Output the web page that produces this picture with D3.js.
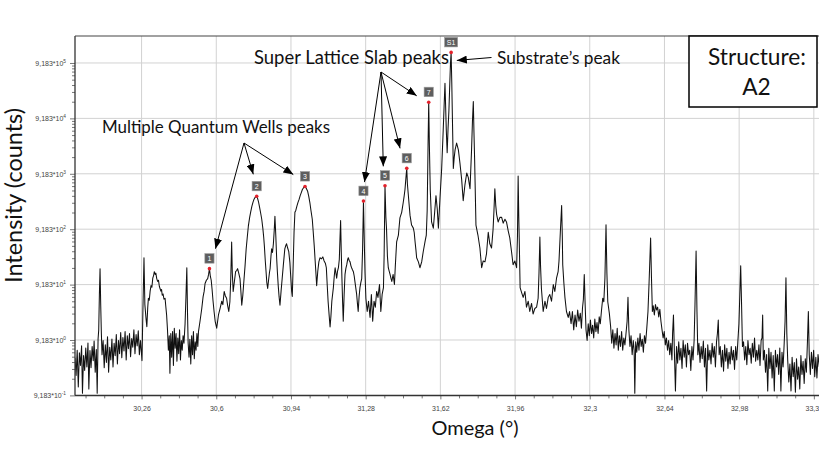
<!DOCTYPE html>
<html><head><meta charset="utf-8">
<script src="https://cdn.jsdelivr.net/npm/d3@7"></script>
<style>body{margin:0;background:#fff} svg{display:block}</style>
</head><body><svg id="c" width="819" height="450"></svg>
<script>
// ---- data: omega (°) vs intensity (counts) ----
const scan = [
[29.957,4.4],[29.962,2.1],[29.967,6.0],[29.972,1.3],[29.977,5.4],[29.982,3.2],[29.987,7.2],[29.991,1.0],[29.996,4.8],[30.001,2.6],[30.006,6.6],[30.011,3.0],[30.016,8.1],[30.020,1.2],[30.025,5.9],[30.030,2.9],[30.035,7.0],[30.040,3.9],[30.044,8.8],[30.049,2.4],[30.054,6.2],[30.058,1.0],[30.062,9.5],[30.065,14],[30.068,60],[30.071,178],[30.074,40],[30.077,12],
[30.080,5.0],[30.085,9.0],[30.090,2.9],[30.095,7.5],[30.100,3.6],[30.105,10.5],[30.110,2.4],[30.115,6.8],[30.120,4.0],[30.125,9.6],[30.130,3.0],[30.135,8.0],[30.140,4.8],[30.145,11.5],[30.150,3.4],[30.155,9.0],[30.160,5.2],[30.165,12.5],[30.170,4.4],[30.175,10.2],[30.180,5.8],[30.185,13.0],[30.190,4.0],[30.195,11.0],[30.200,6.4],[30.205,12.0],[30.210,4.6],[30.215,9.8],[30.220,6.8],[30.225,14.0],[30.230,5.2],[30.235,11.5],[30.240,7.2],[30.245,13.5],[30.250,5.0],[30.255,9.0],[30.262,3.9],
[30.266,30],[30.271,280],[30.275,40],
[30.280,23],[30.284,16],[30.288,35],[30.291,52],[30.295,48],[30.299,70],[30.303,88],[30.307,82],[30.311,120],[30.315,135],[30.318,157],[30.322,140],[30.325,148],[30.329,118],[30.333,105],[30.337,110],[30.341,85],[30.344,78],[30.348,70],[30.351,75],[30.354,59],[30.358,62],[30.362,50],[30.367,52],[30.370,38],[30.374,26],
[30.378,14],[30.382,6.0],[30.386,11],[30.389,2.3],[30.393,12],[30.397,4.5],[30.401,13],[30.405,3.2],[30.409,15],[30.413,6.5],[30.417,12],[30.421,3.8],[30.425,10],[30.429,5.2],[30.433,14],[30.437,4.0],[30.441,9.0],[30.445,6.0],[30.449,11],[30.453,8.0],
[30.458,18],[30.462,55],[30.466,185],[30.469,30],[30.472,8],
[30.476,4.5],[30.480,9.5],[30.484,3.4],[30.488,11],[30.492,5.0],[30.496,13],[30.500,4.2],[30.504,8.5],[30.508,6.0],[30.512,12],[30.516,7.0],
[30.519,13],[30.526,20],[30.534,34],[30.540,55],[30.545,70],[30.549,96],[30.555,110],[30.561,118],[30.565,140],[30.569,178],[30.573,130],[30.577,110],[30.581,75],[30.585,48],[30.590,30],[30.595,20],[30.602,15],
[30.610,26],[30.618,35],[30.625,46],[30.630,40],[30.636,69],[30.641,58],[30.647,52],[30.652,38],[30.657,30],[30.662,45],[30.666,120],[30.670,540],[30.673,150],[30.677,69],[30.682,100],[30.688,157],[30.693,165],[30.697,178],[30.702,150],[30.708,118],[30.712,70],[30.716,39],
[30.721,60],[30.726,110],[30.731,200],[30.736,400],[30.741,650],[30.746,1040],[30.752,1500],[30.757,1900],[30.762,2360],[30.767,2800],[30.772,3200],[30.777,3450],[30.784,3600],[30.788,3300],[30.792,2900],[30.797,2300],[30.802,1800],[30.807,1390],[30.812,950],[30.816,650],[30.819,455],[30.823,250],[30.827,150],[30.830,100],[30.834,78],[30.838,110],[30.842,150],[30.845,178],[30.849,300],[30.852,405],[30.856,350],[30.860,500],[30.864,900],[30.867,1570],[30.871,700],[30.875,268],[30.878,160],[30.882,88],[30.886,55],[30.890,39],[30.895,70],[30.900,118],[30.905,200],[30.909,300],[30.912,405],[30.916,460],[30.920,500],[30.925,420],[30.930,360],[30.935,230],[30.940,110],[30.943,70],[30.946,56],
[30.950,200],[30.954,800],[30.958,1850],[30.962,2000],[30.967,2400],[30.972,2800],[30.977,3166],[30.982,3700],[30.987,4200],[30.992,4780],[30.998,5200],[31.004,5400],[31.010,5000],[31.016,4430],[31.021,3600],[31.026,2780],[31.031,2000],[31.037,1390],[31.041,850],[31.046,455],[31.050,250],[31.054,140],[31.057,88],[31.062,160],[31.067,236],[31.072,280],[31.079,268],[31.085,290],[31.091,245],[31.097,220],[31.101,185],[31.105,90],[31.109,46],[31.114,25],[31.118,15.8],[31.122,25],[31.126,46],[31.133,81],[31.137,130],[31.141,185],[31.148,120],[31.152,160],[31.156,185],[31.160,260],[31.163,600],[31.166,1320],[31.169,350],[31.172,118],[31.175,45],[31.178,20],[31.182,60],[31.186,140],[31.190,180],[31.194,210],[31.198,260],[31.201,280],[31.205,250],[31.209,236],[31.213,200],[31.216,185],[31.220,170],[31.224,157],[31.228,130],[31.231,105],[31.235,80],[31.239,61],[31.243,40],[31.246,30],[31.250,55],[31.254,81],[31.258,100],[31.262,118],[31.266,400],[31.270,2950],[31.274,500],[31.277,150],[31.281,52],
[31.287,30],[31.293,46],[31.300,23.5],[31.306,61],[31.312,20],[31.318,46],[31.324,36],[31.330,69],[31.336,54],[31.343,92],[31.349,30],[31.355,61],[31.361,81],[31.364,300],[31.368,5600],[31.372,1500],[31.375,921],[31.379,300],[31.383,185],[31.387,160],[31.391,140],[31.395,120],[31.399,105],[31.405,140],[31.411,92],[31.415,200],[31.421,540],[31.429,720],[31.436,1470],[31.444,1850],[31.451,2780],[31.455,3600],[31.459,4780],[31.463,7500],[31.467,11500],[31.470,6000],[31.474,3890],[31.478,2500],[31.482,1630],[31.489,1090],[31.497,960],[31.501,800],[31.505,540],[31.509,380],[31.512,280],[31.520,236],[31.527,185],[31.535,236],[31.542,360],[31.550,540],[31.556,720],[31.560,2000],[31.564,30000],[31.567,180000],[31.570,30000],[31.574,4780],[31.580,1240],[31.588,960],[31.594,1850],[31.600,3700],[31.606,2100],[31.611,960],[31.618,3166],[31.626,11500],[31.633,56400],[31.637,150000],[31.641,395000],[31.644,150000],[31.647,56400],[31.651,22000],[31.655,60000],[31.659,128500],[31.663,400000],[31.666,900000],[31.669,1425000],[31.672,400000],[31.675,85000],[31.679,11500],[31.683,18000],[31.687,24800],[31.694,33000],[31.702,24800],[31.709,14500],[31.717,7200],[31.724,3000],[31.732,5870],[31.740,9500],[31.747,7900],[31.755,4950],[31.762,24800],[31.766,80000],[31.770,185000],[31.773,50000],[31.776,16400],[31.782,1090],[31.791,720],[31.800,420],[31.808,185],[31.815,245],[31.823,236],[31.830,330],[31.838,810],[31.845,500],[31.853,420],[31.860,921],[31.864,2000],[31.868,4950],[31.872,2500],[31.876,1700],[31.883,1240],[31.891,1500],[31.899,1500],[31.906,1180],[31.914,1390],[31.921,1240],[31.929,850],[31.936,640],[31.944,360],[31.951,210],[31.959,245],[31.967,185],[31.971,700],[31.974,8400],[31.977,1500],[31.979,611],[31.983,81],[31.991,64],[31.997,54],[32.005,69],[32.012,36],[32.020,46],[32.027,30],[32.035,42],[32.042,27],[32.050,34],[32.058,36],[32.065,52],[32.069,150],[32.073,660],[32.076,200],[32.080,78],[32.088,30],[32.096,46],[32.103,34],[32.111,54],[32.118,61],[32.126,46],[32.134,92],[32.141,69],[32.149,122],[32.156,157],[32.160,245],[32.166,800],[32.172,2460],[32.175,700],[32.177,210],[32.182,100],[32.187,54],[32.194,30],[32.202,23.5],[32.208,30],
[32.215,18],[32.221,30],[32.227,14],[32.233,26],[32.239,16],[32.245,32],[32.251,20],[32.257,28],[32.262,15],[32.267,35],[32.271,50],[32.275,140],[32.279,40],
[32.283,14],[32.288,9],[32.293,18],[32.298,11],[32.303,21],[32.308,12],[32.313,17],[32.318,10],[32.323,22],[32.328,13],[32.333,19],[32.338,12],[32.343,24],[32.348,18],[32.353,30],[32.359,52],[32.364,45],[32.369,120],[32.374,1100],[32.378,150],[32.382,45],[32.389,28],
[32.395,16],[32.400,8],[32.405,14],[32.410,6.5],[32.415,12],[32.420,7.5],[32.425,15],[32.430,6.0],[32.435,11],[32.440,7.0],[32.445,13],[32.450,6.0],[32.455,10],[32.460,7.5],[32.465,12],[32.470,20],[32.474,54],[32.478,14],
[32.483,7.0],[32.488,11],[32.493,5.0],[32.498,9.0],[32.502,6.0],[32.505,1.0],[32.509,8.5],[32.514,5.5],[32.519,10],[32.524,6.0],[32.529,12],[32.534,7.0],[32.539,9.5],[32.544,5.5],[32.549,11],[32.554,8.0],[32.559,14],[32.565,30],[32.570,100],[32.577,635],[32.581,120],[32.585,30],
[32.589,38],[32.594,26],[32.599,40],[32.604,32],[32.609,36],[32.614,24],[32.619,33],[32.624,20],[32.629,14],[32.634,10],[32.639,13],[32.644,7.5],[32.649,10],[32.654,6.0],[32.659,9.0],[32.664,5.0],[32.669,8.0],[32.674,4.0],[32.677,12],[32.681,26],[32.685,6.0],
[32.690,1.1],[32.695,7.0],[32.700,3.5],[32.705,8.5],[32.710,4.0],[32.715,6.5],[32.720,2.8],[32.725,9.0],[32.730,4.5],[32.735,7.5],[32.740,3.0],[32.745,8.0],[32.750,5.0],[32.755,6.0],[32.760,2.6],[32.765,7.0],[32.770,4.0],[32.775,9.0],[32.779,40],[32.784,370],[32.788,30],[32.792,5.0],
[32.797,8.0],[32.802,3.6],[32.807,7.0],[32.812,4.2],[32.817,8.8],[32.822,3.0],[32.827,6.5],[32.832,1.1],[32.837,7.5],[32.842,4.0],[32.847,6.0],[32.852,3.4],[32.857,8.0],[32.862,4.5],[32.867,7.0],[32.872,3.0],[32.877,8.5],[32.881,12],[32.885,21],[32.889,5.0],
[32.894,7.0],[32.899,3.0],[32.904,6.0],[32.909,2.5],[32.914,7.5],[32.919,3.8],[32.924,6.5],[32.929,2.8],[32.934,5.5],[32.939,3.4],[32.944,7.0],[32.949,4.0],[32.954,6.0],[32.959,2.7],[32.964,7.0],[32.969,4.0],[32.974,8.5],[32.979,18],[32.983,60],[32.987,200],[32.991,40],[32.995,7.0],
[33.000,8.5],[33.005,4.0],[33.010,7.0],[33.015,3.3],[33.020,9.0],[33.025,5.0],[33.030,6.5],[33.035,3.5],[33.040,8.0],[33.045,4.5],[33.050,10],[33.055,3.8],[33.060,6.0],[33.065,4.0],[33.070,7.5],[33.075,3.2],[33.080,9.0],[33.084,10],[33.087,26],[33.090,4.0],
[33.095,6.0],[33.100,2.4],[33.105,5.0],[33.110,1.1],[33.115,6.5],[33.120,2.8],[33.125,5.5],[33.130,1.9],[33.135,4.8],[33.140,1.1],[33.145,6.0],[33.150,3.0],[33.155,5.0],[33.160,2.2],[33.165,6.6],[33.170,1.1],[33.175,5.5],[33.180,3.0],[33.185,8.0],[33.189,20],[33.193,122],[33.197,12],
[33.201,4.0],[33.206,1.6],[33.211,3.4],[33.216,1.1],[33.221,4.5],[33.226,2.0],[33.231,3.6],[33.236,1.05],[33.241,4.2],[33.246,1.8],[33.251,3.0],[33.256,1.2],[33.261,4.8],[33.266,2.2],[33.271,3.8],[33.276,1.5],[33.281,4.2],[33.286,2.4],[33.291,9.0],[33.295,30],[33.299,5.0],
[33.304,2.2],[33.309,5.5],[33.314,2.8],[33.319,6.0],[33.324,2.0],[33.329,4.5],[33.334,1.9],[33.339,5.0],[33.345,3.0]
];
const xTicks = [30.26,30.6,30.94,31.28,31.62,31.96,32.3,32.64,32.98,33.32];
const xTickLabels = ["30,26","30,6","30,94","31,28","31,62","31,96","32,3","32,64","32,98","33,32"];
const yExponents = [-1,0,1,2,3,4,5];
const yMantissa = "9,183*10";
const peakNames = ["1","2","3","4","5","6","7","S1"];
const peakOmega = [30.569,30.784,31.004,31.270,31.368,31.467,31.567,31.669];
const peakCounts = [178,3600,5400,2950,5600,11500,180000,1425000];

// ---- layout ----
const X0 = 75, Y0 = 395.4, Y1 = 36, RIGHT = 819;
const x = d3.scaleLinear().domain([29.957, 33.40]).range([X0, X0 + (33.40 - 29.957) * 219.7]);
const y = d3.scaleLog().domain([0.9183, Math.pow(10, 6.45)]).range([Y0, Y1]);
const svg = d3.select('#c');
const FONT = "Lato, 'Open Sans', sans-serif";
const TICKFONT = "'Liberation Sans', Arial, sans-serif";

const defs = svg.append('defs');
defs.append('clipPath').attr('id','plot').append('rect')
  .attr('x', X0).attr('y', Y1).attr('width', RIGHT - X0).attr('height', Y0 - Y1);
defs.append('marker').attr('id','ah').attr('viewBox','0 0 10 8')
  .attr('refX',10).attr('refY',4).attr('markerWidth',10).attr('markerHeight',8)
  .attr('markerUnits','userSpaceOnUse').attr('orient','auto')
  .append('path').attr('d','M0,0L10,4L0,8Z').attr('fill','#000');

const yVals = yExponents.map(e => 9.183 * Math.pow(10, e));

// grid
svg.append('g').selectAll('line').data(yVals.slice(1)).join('line')
  .attr('x1', X0).attr('x2', RIGHT).attr('y1', d => y(d)).attr('y2', d => y(d))
  .attr('stroke', '#d2d2d2').attr('stroke-width', 1);
svg.append('g').selectAll('line').data(xTicks).join('line')
  .attr('x1', d => x(d)).attr('x2', d => x(d)).attr('y1', Y1).attr('y2', Y0)
  .attr('stroke', '#d2d2d2').attr('stroke-width', 1);

// curve
svg.append('path').datum(scan).attr('clip-path','url(#plot)')
  .attr('d', d3.line().x(d => x(d[0])).y(d => y(d[1])))
  .attr('fill','none').attr('stroke','#111').attr('stroke-width',1.05).attr('stroke-linejoin','round');

// x axis
const minorX = [];
for (let i = -1; i < xTicks.length; i++) {
  const b = i < 0 ? xTicks[0] - 0.34 : xTicks[i];
  for (let k = 1; k < 4; k++) minorX.push(+(b + k * 0.085).toFixed(3));
}
const gxm = svg.append('g').attr('transform', `translate(0,${Y0})`)
  .call(d3.axisBottom(x).tickValues(minorX.filter(v => x(v) > X0 && x(v) < RIGHT)).tickSize(3).tickFormat(''));
const gx = svg.append('g').attr('transform', `translate(0,${Y0})`)
  .call(d3.axisBottom(x).tickValues(xTicks).tickSize(4).tickPadding(7).tickFormat((d, i) => xTickLabels[i]));
[gx, gxm].forEach(g => { g.select('.domain').remove(); g.selectAll('line').attr('stroke','#777'); });
gx.selectAll('text').attr('font-family', TICKFONT).attr('font-size', 7).attr('fill', '#444');

// y axis
const minorY = [];
yVals.slice(0, -1).forEach(v => { for (let k = 2; k < 10; k++) minorY.push(v * k); });
const gym = svg.append('g').attr('transform', `translate(${X0},0)`)
  .call(d3.axisLeft(y).tickValues(minorY.filter(v => y(v) > Y1)).tickSize(3).tickFormat(''));
const gy = svg.append('g').attr('transform', `translate(${X0},0)`)
  .call(d3.axisLeft(y).tickValues(yVals).tickSize(5).tickPadding(4).tickFormat(() => ''));
[gy, gym].forEach(g => { g.select('.domain').remove(); g.selectAll('line').attr('stroke','#777'); });
gy.selectAll('text').attr('font-family', TICKFONT).attr('font-size', 7).attr('fill', '#444')
  .each(function (d, i) {
    const t = d3.select(this);
    t.append('tspan').text(yMantissa);
    t.append('tspan').text(yExponents[i]).attr('font-size', 4.8).attr('dy', -3);
  });

// frame
svg.append('line').attr('x1', X0).attr('x2', X0).attr('y1', Y1).attr('y2', Y0).attr('stroke', '#333').attr('stroke-width', 1.3);
svg.append('line').attr('x1', X0).attr('x2', RIGHT).attr('y1', Y0).attr('y2', Y0).attr('stroke', '#333').attr('stroke-width', 1.5);
svg.append('line').attr('x1', X0).attr('x2', RIGHT).attr('y1', Y1).attr('y2', Y1).attr('stroke', '#444').attr('stroke-width', 1.2);

// peak markers and labels
const peaks = peakNames.map((n, i) => ({ n, px: x(peakOmega[i]), py: y(peakCounts[i]) }));
const pg = svg.append('g').selectAll('g').data(peaks).join('g');
pg.append('rect').attr('x', d => d.px - (d.n.length > 1 ? 6.5 : 4.6)).attr('y', d => d.py - 15)
  .attr('width', d => d.n.length > 1 ? 13 : 9.2).attr('height', 9.5)
  .attr('fill', '#5e5e5e').attr('stroke', '#9a9a9a').attr('stroke-width', 0.6);
pg.append('text').attr('x', d => d.px).attr('y', d => d.py - 7.6).attr('text-anchor', 'middle')
  .attr('font-family', TICKFONT).attr('font-size', 7).attr('fill', '#fff').text(d => d.n);
pg.append('circle').attr('cx', d => d.px).attr('cy', d => d.py).attr('r', 1.8).attr('fill', '#e3212b');

// annotation arrows (tips placed relative to the peak markers)
const tipOffsets = [[6, -20], [-3.4, -22], [-11.7, -12], [1, -19], [-1.7, -19.3], [-6.7, -20], [-12, -6.4], [5.7, 8]];
const arrowGroups = [
  { from: [244, 143], peaks: [0, 1, 2] },
  { from: [381, 72], peaks: [3, 4, 5, 6] },
  { from: [491.5, 57.5], peaks: [7] }
];
const ag = svg.append('g');
arrowGroups.forEach(g => g.peaks.forEach(i => {
  ag.append('line').attr('x1', g.from[0]).attr('y1', g.from[1])
    .attr('x2', peaks[i].px + tipOffsets[i][0]).attr('y2', peaks[i].py + tipOffsets[i][1])
    .attr('stroke', '#000').attr('stroke-width', 1).attr('marker-end', 'url(#ah)');
}));

function fit(sel, w) {
  const l = sel.node().getComputedTextLength();
  const fs = parseFloat(sel.attr('font-size'));
  sel.attr('font-size', (fs * w / l).toFixed(2));
}
const notes = [
  { t: 'Multiple Quantum Wells peaks', x: 102, y: 133, w: 228 },
  { t: 'Super Lattice Slab peaks', x: 254, y: 64, w: 195 },
  { t: 'Substrate\u2019s peak', x: 497, y: 64, w: 123 }
];
notes.forEach(n => {
  const t = svg.append('text').attr('x', n.x).attr('y', n.y).attr('font-family', FONT)
    .attr('font-size', 16).attr('fill', '#111').text(n.t);
  fit(t, n.w);
});

// structure box
svg.append('rect').attr('x', 689).attr('y', 36).attr('width', 128).attr('height', 71)
  .attr('fill', '#fff').attr('stroke', '#000').attr('stroke-width', 1.5);
const s1 = svg.append('text').attr('x', 757).attr('y', 65).attr('text-anchor', 'middle')
  .attr('font-family', FONT).attr('font-size', 22).attr('fill', '#111').text('Structure:');
fit(s1, 98);
svg.append('text').attr('x', 756.5).attr('y', 95).attr('text-anchor', 'middle')
  .attr('font-family', FONT).attr('font-size', s1.attr('font-size')).attr('fill', '#111').text('A2');

// axis titles
const yt = svg.append('text').attr('transform', 'translate(22,195.5) rotate(-90)').attr('text-anchor', 'middle')
  .attr('font-family', FONT).attr('font-size', 18).attr('fill', '#111').text('Intensity (counts)');
fit(yt, 175);
const xt = svg.append('text').attr('x', 475).attr('y', 435).attr('text-anchor', 'middle')
  .attr('font-family', FONT).attr('font-size', 18).attr('fill', '#111').text('Omega (°)');
fit(xt, 87);
</script></body></html>
